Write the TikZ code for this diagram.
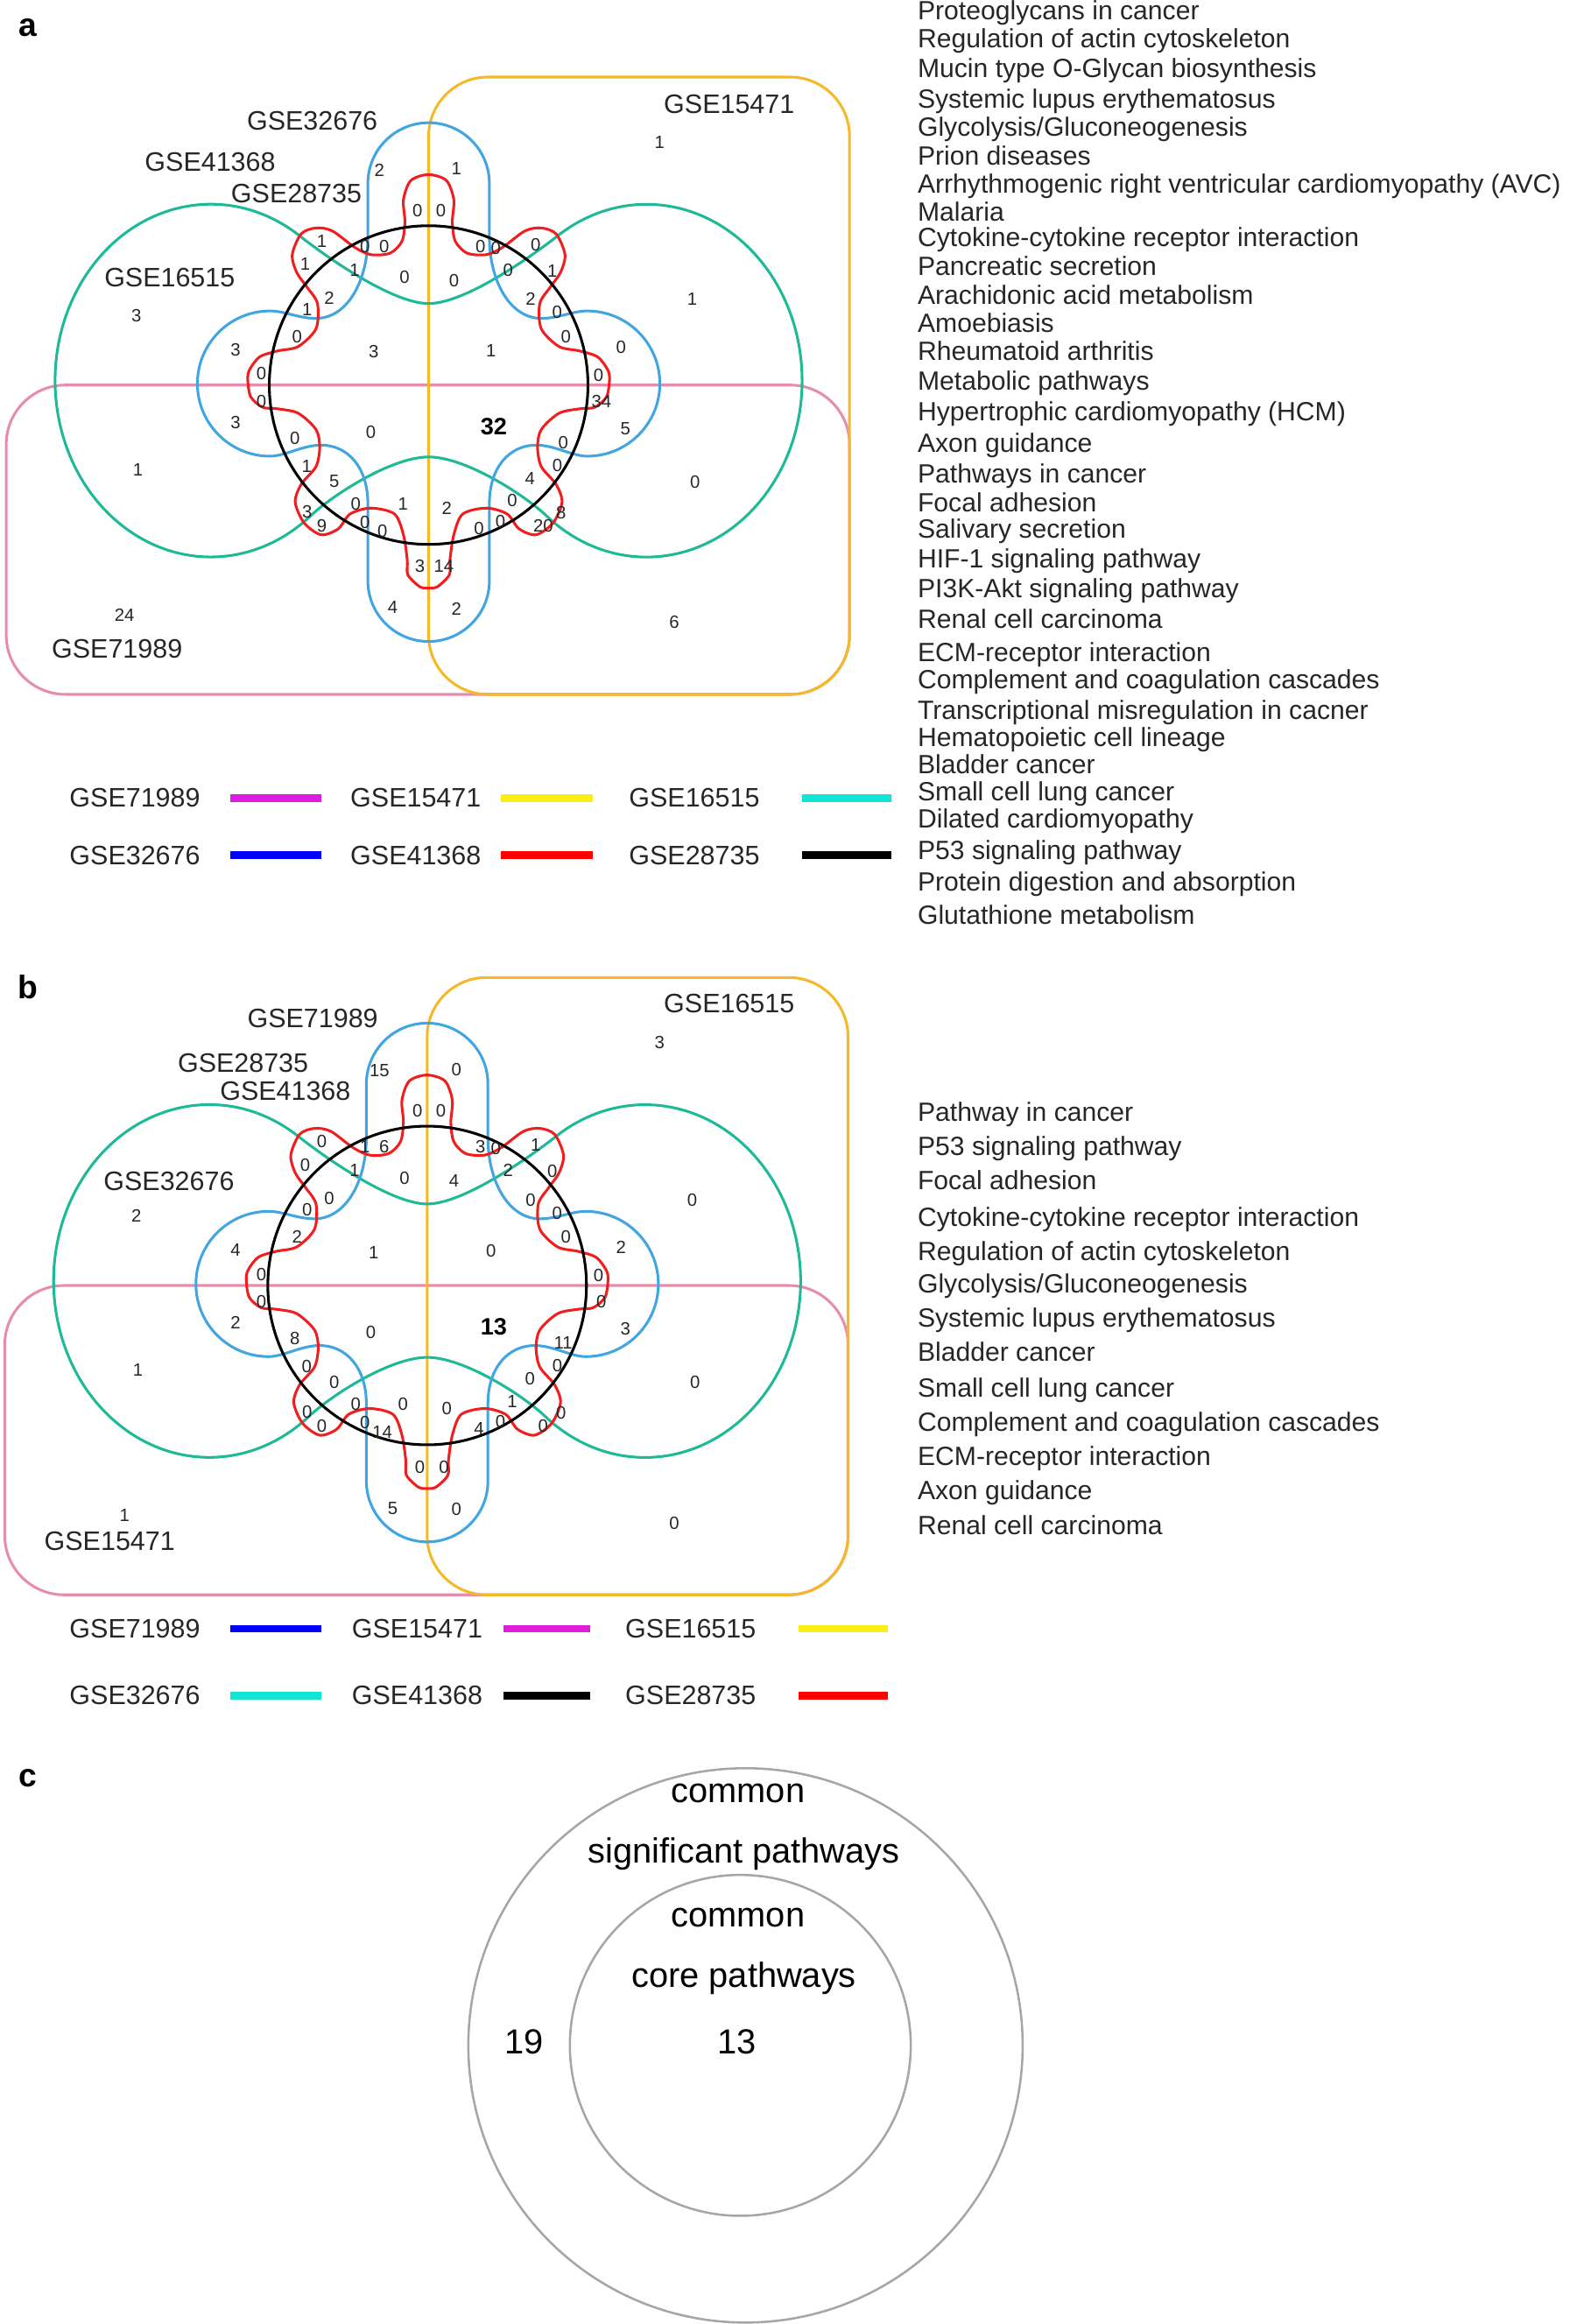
\documentclass[tikz,border=0pt]{standalone}
\usepackage{fontspec}
\setmainfont{Liberation Sans}
\usepackage{tikz}

\definecolor{setpink}{RGB}{230,140,175}
\definecolor{setgold}{RGB}{245,185,40}
\definecolor{setgreen}{RGB}{30,185,150}
\definecolor{setblue}{RGB}{65,165,225}
\definecolor{setred}{RGB}{240,30,30}
\definecolor{keymag}{RGB}{220,30,220}
\definecolor{keyyel}{RGB}{250,238,20}
\definecolor{keycyan}{RGB}{20,228,210}

\tikzset{
  outline/.style={line width=1.8pt},
  cnt/.style={inner sep=0pt, text=black!85, font=\fontsize{12}{12}\selectfont},
  core/.style={inner sep=0pt, font=\fontsize{16}{16}\selectfont\bfseries},
  gse/.style={inner sep=0pt, text=black!85, font=\fontsize{18}{18}\selectfont},
  pway/.style={inner sep=0pt, anchor=base west, text=black!85, font=\fontsize{17.8}{18}\selectfont},
  keyline/.style={line width=5pt},
  tag/.style={inner sep=0pt, font=\fontsize{22}{22}\selectfont\bfseries},
  ring/.style={draw=black!35, line width=1.5pt},
  ctext/.style={inner sep=0pt, anchor=base, font=\fontsize{23.5}{24}\selectfont},
}

\begin{document}
\begin{tikzpicture}[x=1pt, y=-1pt]
\useasboundingbox (0,0) rectangle (1064,1568);

% the six sets, drawn once for panel a and once for panel b
\foreach \cx/\cy in {289.2/259.8, 288.2/867.3} {
\begin{scope}[shift={(\cx,\cy)}]
\draw[outline, setpink, rounded corners=40pt] (-285,0) rectangle (284,208.7);
\draw[outline, setgold, rounded corners=40pt] (0,-207.8) rectangle (284,208.7);
% two lobes
\draw[outline, setgreen] (0,-55) .. controls (-25,-55) and (-71,-88) .. (-86.8,-100.5)
  arc[start angle=-55, end angle=-310, x radius=105, y radius=119]
  .. controls (-65,74.4) and (-25,48.5) .. (0,48.5)
  .. controls (25,48.5) and (65,74.4) .. (79.5,88.2)
  arc[start angle=130, end angle=-125, x radius=105, y radius=119]
  .. controls (71,-88) and (25,-55) .. cycle;
% four lobes
\draw[outline, setblue] (0,-177) arc[start angle=-90, end angle=0, radius=41] -- (41,-100)
  .. controls (41,-70) and (55,-45) .. (76,-45) .. controls (88,-45) and (97,-50) .. (107,-50)
  arc[start angle=-90, end angle=90, radius=49]
  .. controls (97,48) and (85,40.5) .. (72.5,40.5) .. controls (55,40.5) and (41,55) .. (41,80)
  -- (41,132) arc[start angle=0, end angle=180, radius=41] -- (-41,80)
  .. controls (-41,55) and (-55,40.5) .. (-72.5,40.5) .. controls (-85,40.5) and (-97,48) .. (-107,48)
  arc[start angle=90, end angle=270, radius=49]
  .. controls (-97,-50) and (-88,-45) .. (-76,-45) .. controls (-55,-45) and (-41,-70) .. (-41,-100)
  -- (-41,-136) arc[start angle=180, end angle=270, radius=41] -- cycle;
% eight lobes
\draw[outline, setred] plot[smooth cycle] coordinates {(0,-142) (12,-138) (17,-125) (16,-110) (18,-97) (26,-89) (39,-88) (50,-93) (65,-104) (76,-106) (86,-102) (92,-88) (89,-76) (82,-66) (75,-55) (76,-38) (88,-26) (102,-23) (114,-19) (121,-10) (122,-3) (120,8) (112,15) (102,16) (88,19) (76,30) (73.5,42) (76,55) (86,67) (90,79) (84,93) (72.5,101) (61,97) (53,87) (39,83) (23,87) (17,101) (14.4,118) (14,128) (6,136) (0,137) (-6,136) (-14,128) (-14.4,118) (-17,101) (-23,87) (-39,83) (-53,87) (-61,97) (-72.5,101) (-84,93) (-90,79) (-86,67) (-76,55) (-73.5,42) (-76,30) (-88,19) (-102,16) (-112,15) (-120,8) (-122,-3) (-121,-10) (-114,-19) (-102,-23) (-88,-26) (-76,-38) (-75,-55) (-82,-66) (-89,-76) (-92,-88) (-86,-102) (-76,-106) (-65,-104) (-50,-93) (-39,-88) (-26,-89) (-18,-97) (-16,-110) (-17,-125) (-12,-138)};
\draw[outline, black] (0,0) circle [radius=107.5];
\end{scope}
}

% panel a
\node[tag](ta) at (19,19) {a};
\node[gse](la32676) at (210.7,81.8) {GSE32676};
\node[gse](la41368) at (141.8,109.3) {GSE41368};
\node[gse](la28735) at (200,130.6) {GSE28735};
\node[gse](la16515) at (114.5,187.5) {GSE16515};
\node[gse](la15471) at (492,70.5) {GSE15471};
\node[gse](la71989) at (79,437.7) {GSE71989};

\node[cnt](a1) at (281.7,141.8) {0};
\node[cnt](a2) at (297.5,141.8) {0};
\node[cnt](a3) at (217.1,162.5) {1};
\node[cnt](a4) at (246.2,166.4) {0};
\node[cnt](a5) at (259.2,166.4) {0};
\node[cnt](a6) at (324.2,166.4) {0};
\node[cnt](a7) at (334.5,167.4) {0};
\node[cnt](a8) at (361.5,165.1) {0};
\node[cnt](a9) at (205.9,178.3) {1};
\node[cnt](a10) at (239.3,182.2) {1};
\node[cnt](a11) at (272.9,187.2) {0};
\node[cnt](a12) at (306.3,189.1) {0};
\node[cnt](a13) at (342.8,182.2) {0};
\node[cnt](a14) at (372.7,182.8) {1};
\node[cnt](a15) at (222.2,200.9) {2};
\node[cnt](a16) at (358.1,201.9) {2};
\node[cnt](a17) at (207.3,208.8) {1};
\node[cnt](a18) at (375.9,210.8) {0};
\node[cnt](a19) at (200.5,227) {0};
\node[cnt](a20) at (381.8,227) {0};
\node[cnt](a21) at (252.2,237.4) {3};
\node[cnt](a22) at (331.3,236.4) {1};
\node[cnt](a23) at (176.3,252.2) {0};
\node[cnt](a24) at (403.8,253.2) {0};
\node[cnt](a25) at (176.3,270.9) {0};
\node[cnt](a26) at (405.8,270.9) {34};
\node[cnt](a27) at (199,295.5) {0};
\node[cnt](a28) at (250.2,291.6) {0};
\node[core](a29) at (333.2,287.6) {32};
\node[cnt](a30) at (380,298.4) {0};
\node[cnt](a31) at (206.9,314.4) {1};
\node[cnt](a32) at (376,314) {0};
\node[cnt](a33) at (225.6,325) {5};
\node[cnt](a34) at (357.6,323) {4};
\node[cnt](a35) at (240,339.8) {0};
\node[cnt](a36) at (271.9,339.8) {1};
\node[cnt](a37) at (301.4,342.8) {2};
\node[cnt](a38) at (345.7,337.9) {0};
\node[cnt](a39) at (207.2,345.1) {3};
\node[cnt](a40) at (378.6,345.7) {8};
\node[cnt](a41) at (217.1,354.6) {9};
\node[cnt](a42) at (246.2,352.2) {0};
\node[cnt](a43) at (258,358.5) {0};
\node[cnt](a44) at (323.2,356.6) {0};
\node[cnt](a45) at (337.6,351.7) {0};
\node[cnt](a46) at (366.5,354.6) {20};
\node[cnt](a47) at (283.3,382.2) {3};
\node[cnt](a48) at (299.5,382.2) {14};
\node[cnt](a49) at (445,96) {1};
\node[cnt](a50) at (256,115) {2};
\node[cnt](a51) at (308,114) {1};
\node[cnt](a52) at (92,213) {3};
\node[cnt](a53) at (467,202) {1};
\node[cnt](a54) at (159,236) {3};
\node[cnt](a55) at (419,234) {0};
\node[cnt](a56) at (159,285) {3};
\node[cnt](a57) at (422,289) {5};
\node[cnt](a58) at (93,317) {1};
\node[cnt](a59) at (469,325) {0};
\node[cnt](a60) at (265,410) {4};
\node[cnt](a61) at (308,411) {2};
\node[cnt](a62) at (84,415) {24};
\node[cnt](a63) at (455,420) {6};

% legend a
\node[gse](ka71989) at (91,538.5) {GSE71989};
\node[gse](ka15471) at (280.5,538.5) {GSE15471};
\node[gse](ka16515) at (468.5,538.5) {GSE16515};
\node[gse](ka32676) at (91,577) {GSE32676};
\node[gse](ka41368) at (280.5,577) {GSE41368};
\node[gse](ka28735) at (468.5,577) {GSE28735};
\draw[keyline, keymag] (155.6,538.5) -- (216.8,538.5);
\draw[keyline, keyyel] (338,538.5) -- (400,538.5);
\draw[keyline, keycyan] (541,538.5) -- (601.6,538.5);
\draw[keyline, blue] (155.6,577) -- (216.8,577);
\draw[keyline, red] (338,577) -- (400,577);
\draw[keyline, black] (541,577) -- (601.6,577);

% pathways a
\node[pway](pa1) at (619,13.2) {Proteoglycans in cancer};
\node[pway](pa2) at (619,32.4) {Regulation of actin cytoskeleton};
\node[pway](pa3) at (619,52.4) {Mucin type O-Glycan biosynthesis};
\node[pway](pa4) at (619,72.7) {Systemic lupus erythematosus};
\node[pway](pa5) at (619,92.1) {Glycolysis/Gluconeogenesis};
\node[pway](pa6) at (619,111.5) {Prion diseases};
\node[pway](pa7) at (619,130.2) {Arrhythmogenic right ventricular cardiomyopathy (AVC)};
\node[pway](pa8) at (619,149.2) {Malaria};
\node[pway](pa9) at (619,166.5) {Cytokine-cytokine receptor interaction};
\node[pway](pa10) at (619,185.8) {Pancreatic secretion};
\node[pway](pa11) at (619,205.2) {Arachidonic acid metabolism};
\node[pway](pa12) at (619,224) {Amoebiasis};
\node[pway](pa13) at (619,242.9) {Rheumatoid arthritis};
\node[pway](pa14) at (619,263.3) {Metabolic pathways};
\node[pway](pa15) at (619,283.7) {Hypertrophic cardiomyopathy (HCM)};
\node[pway](pa16) at (619,305.1) {Axon guidance};
\node[pway](pa17) at (619,326.1) {Pathways in cancer};
\node[pway](pa18) at (619,345.5) {Focal adhesion};
\node[pway](pa19) at (619,362.8) {Salivary secretion};
\node[pway](pa20) at (619,383.1) {HIF-1 signaling pathway};
\node[pway](pa21) at (619,403.5) {PI3K-Akt signaling pathway};
\node[pway](pa22) at (619,423.9) {Renal cell carcinoma};
\node[pway](pa23) at (619,446.3) {ECM-receptor interaction};
\node[pway](pa24) at (619,464.7) {Complement and coagulation cascades};
\node[pway](pa25) at (619,485.1) {Transcriptional misregulation in cacner};
\node[pway](pa26) at (619,503.4) {Hematopoietic cell lineage};
\node[pway](pa27) at (619,521.7) {Bladder cancer};
\node[pway](pa28) at (619,540.1) {Small cell lung cancer};
\node[pway](pa29) at (619,558.4) {Dilated cardiomyopathy};
\node[pway](pa30) at (619,579.8) {P53 signaling pathway};
\node[pway](pa31) at (619,601.2) {Protein digestion and absorption};
\node[pway](pa32) at (619,623.7) {Glutathione metabolism};

% panel b
\node[tag](tb) at (19,666) {b};
\node[gse](lb71989) at (211,687) {GSE71989};
\node[gse](lb28735) at (164,717) {GSE28735};
\node[gse](lb41368) at (192.5,736) {GSE41368};
\node[gse](lb32676) at (114,797) {GSE32676};
\node[gse](lb16515) at (492,677) {GSE16515};
\node[gse](lb15471) at (74,1040) {GSE15471};

\begin{scope}[shift={(0,607.5)}]
\node[cnt](b1) at (281.7,141.8) {0};
\node[cnt](b2) at (297.5,141.8) {0};
\node[cnt](b3) at (217.1,162.5) {0};
\node[cnt](b4) at (246.2,166.4) {1};
\node[cnt](b5) at (259.2,166.4) {6};
\node[cnt](b6) at (324.2,166.4) {3};
\node[cnt](b7) at (334.5,167.4) {0};
\node[cnt](b8) at (361.5,165.1) {1};
\node[cnt](b9) at (205.9,178.3) {0};
\node[cnt](b10) at (239.3,182.2) {1};
\node[cnt](b11) at (272.9,187.2) {0};
\node[cnt](b12) at (306.3,189.1) {4};
\node[cnt](b13) at (342.8,182.2) {2};
\node[cnt](b14) at (372.7,182.8) {0};
\node[cnt](b15) at (222.2,200.9) {0};
\node[cnt](b16) at (358.1,201.9) {0};
\node[cnt](b17) at (207.3,208.8) {0};
\node[cnt](b18) at (375.9,210.8) {0};
\node[cnt](b19) at (200.5,227) {2};
\node[cnt](b20) at (381.8,227) {0};
\node[cnt](b21) at (252.2,237.4) {1};
\node[cnt](b22) at (331.3,236.4) {0};
\node[cnt](b23) at (176.3,252.2) {0};
\node[cnt](b24) at (403.8,253.2) {0};
\node[cnt](b25) at (176.3,270.9) {0};
\node[cnt](b26) at (405.8,270.9) {0};
\node[cnt](b27) at (199,295.5) {8};
\node[cnt](b28) at (250.2,291.6) {0};
\node[core](b29) at (333.2,287.6) {13};
\node[cnt](b30) at (380,298.4) {11};
\node[cnt](b31) at (206.9,314.4) {0};
\node[cnt](b32) at (376,314) {0};
\node[cnt](b33) at (225.6,325) {0};
\node[cnt](b34) at (357.6,323) {0};
\node[cnt](b35) at (240,339.8) {0};
\node[cnt](b36) at (271.9,339.8) {0};
\node[cnt](b37) at (301.4,342.8) {0};
\node[cnt](b38) at (345.7,337.9) {1};
\node[cnt](b39) at (207.2,345.1) {0};
\node[cnt](b40) at (378.6,345.7) {0};
\node[cnt](b41) at (217.1,354.6) {0};
\node[cnt](b42) at (246.2,352.2) {0};
\node[cnt](b43) at (258,358.5) {14};
\node[cnt](b44) at (323.2,356.6) {4};
\node[cnt](b45) at (337.6,351.7) {0};
\node[cnt](b46) at (366.5,354.6) {0};
\node[cnt](b47) at (283.3,382.2) {0};
\node[cnt](b48) at (299.5,382.2) {0};
\node[cnt](b49) at (445,96) {3};
\node[cnt](b50) at (256,115) {15};
\node[cnt](b51) at (308,114) {0};
\node[cnt](b52) at (92,213) {2};
\node[cnt](b53) at (467,202) {0};
\node[cnt](b54) at (159,236) {4};
\node[cnt](b55) at (419,234) {2};
\node[cnt](b56) at (159,285) {2};
\node[cnt](b57) at (422,289) {3};
\node[cnt](b58) at (93,317) {1};
\node[cnt](b59) at (469,325) {0};
\node[cnt](b60) at (265,410) {5};
\node[cnt](b61) at (308,411) {0};
\node[cnt](b62) at (84,415) {1};
\node[cnt](b63) at (455,420) {0};
\end{scope}

% legend b
\node[gse](kb71989) at (91,1099) {GSE71989};
\node[gse](kb15471) at (281.5,1099) {GSE15471};
\node[gse](kb16515) at (466,1099) {GSE16515};
\node[gse](kb32676) at (91,1144) {GSE32676};
\node[gse](kb41368) at (281.5,1144) {GSE41368};
\node[gse](kb28735) at (466,1144) {GSE28735};
\draw[keyline, blue] (155.6,1099) -- (216.8,1099);
\draw[keyline, keymag] (340,1099) -- (398,1099);
\draw[keyline, keyyel] (539,1099) -- (599,1099);
\draw[keyline, keycyan] (155.6,1144) -- (216.8,1144);
\draw[keyline, black] (340,1144) -- (398,1144);
\draw[keyline, red] (539,1144) -- (599,1144);

% pathways b
\node[pway](pb1) at (619,756.5) {Pathway in cancer};
\node[pway](pb2) at (619,779.5) {P53 signaling pathway};
\node[pway](pb3) at (619,802.5) {Focal adhesion};
\node[pway](pb4) at (619,827.5) {Cytokine-cytokine receptor interaction};
\node[pway](pb5) at (619,850.5) {Regulation of actin cytoskeleton};
\node[pway](pb6) at (619,872.5) {Glycolysis/Gluconeogenesis};
\node[pway](pb7) at (619,895.5) {Systemic lupus erythematosus};
\node[pway](pb8) at (619,918.5) {Bladder cancer};
\node[pway](pb9) at (619,942.5) {Small cell lung cancer};
\node[pway](pb10) at (619,965.5) {Complement and coagulation cascades};
\node[pway](pb11) at (619,988.5) {ECM-receptor interaction};
\node[pway](pb12) at (619,1011.5) {Axon guidance};
\node[pway](pb13) at (619,1035.5) {Renal cell carcinoma};

% panel c
\node[tag](tc) at (19,1200) {c};
\draw[ring] (503,1380) circle [radius=187];
\draw[ring] (499.5,1380) circle [radius=115];
\node[ctext](c1) at (498,1216) {common};
\node[ctext](c2) at (502,1257) {significant pathways};
\node[ctext](c3) at (498,1300) {common};
\node[ctext](c4) at (502,1341) {core pathways};
\node[inner sep=0pt, font=\fontsize{23.5}{24}\selectfont](c5) at (353.8,1377.7) {19};
\node[inner sep=0pt, font=\fontsize{23.5}{24}\selectfont](c6) at (497,1377.7) {13};
\end{tikzpicture}
\end{document}
